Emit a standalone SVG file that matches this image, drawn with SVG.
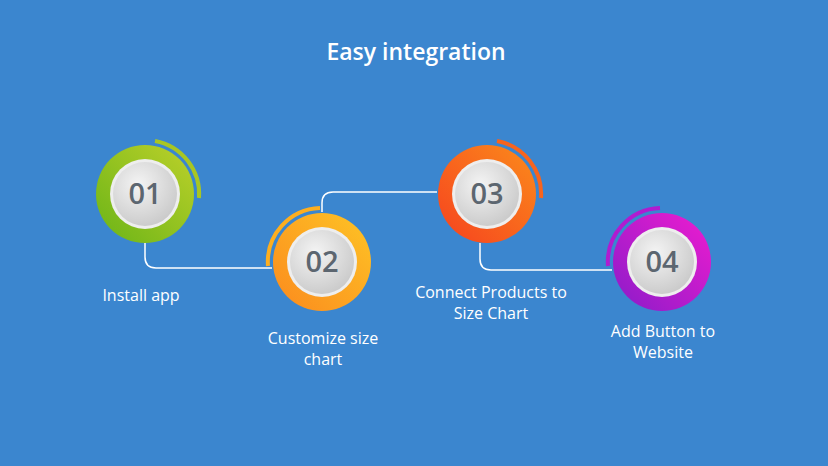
<svg xmlns="http://www.w3.org/2000/svg" width="828" height="466" viewBox="0 0 828 466">
<defs>
<style>
.lbl{font-family:"Open Sans","Liberation Sans",sans-serif;font-size:16px;fill:#fff;text-anchor:middle;font-weight:500}
.num{font-family:"Open Sans","Liberation Sans",sans-serif;font-size:29px;font-weight:600;fill:#5c6670;text-anchor:middle}
.con{fill:none;stroke:#fff;stroke-width:1.5}
.arc{fill:none;stroke-width:4}
</style>
<radialGradient id="w" cx="0.4" cy="0.35" r="0.7"><stop offset="0" stop-color="#f4f4f4"/><stop offset="1" stop-color="#c9c9c9"/></radialGradient>
<linearGradient id="g1" x1="0" y1="1" x2="1" y2="0"><stop offset="0" stop-color="#6ab417"/><stop offset="1" stop-color="#bdd12a"/></linearGradient>
<linearGradient id="g2" x1="0" y1="1" x2="1" y2="0"><stop offset="0" stop-color="#fb8a1e"/><stop offset="1" stop-color="#fec425"/></linearGradient>
<linearGradient id="g3" x1="0" y1="1" x2="1" y2="0"><stop offset="0" stop-color="#f6421f"/><stop offset="1" stop-color="#fb8b1b"/></linearGradient>
<linearGradient id="g4" x1="0" y1="1" x2="1" y2="0"><stop offset="0" stop-color="#8a1cc9"/><stop offset="1" stop-color="#ef1ccf"/></linearGradient>
</defs>
<rect width="828" height="466" fill="#3b86cf"/>
<text x="416" y="60" font-family="'Open Sans','Liberation Sans',sans-serif" font-size="23" font-weight="600" fill="#fff" text-anchor="middle">Easy integration</text>
<g id="connectors">
<path class="con" d="M145 243 V257 Q145 268 156 268 H272"/>
<path class="con" d="M322 212 V203 Q322 192 333 192 H437"/>
<path class="con" d="M480 243 V259 Q480 270 491 270 H612"/>
</g>
<g id="n1">
<path class="arc" stroke="#a8c623" d="M155 141 A54 54 0 0 1 199 198"/>
<circle cx="145" cy="194" r="49" fill="url(#g1)"/>
<circle cx="145" cy="194" r="35" fill="#eee"/>
<circle cx="145" cy="194" r="32" fill="url(#w)"/>
<text class="num" x="145" y="204">01</text>
<text class="lbl" x="141" y="301">Install app</text>
</g>
<g id="n2">
<path class="arc" stroke="#fdae1f" d="M268 266 A54 54 0 0 1 320 208"/>
<circle cx="322" cy="262" r="49" fill="url(#g2)"/>
<circle cx="322" cy="262" r="35" fill="#eee"/>
<circle cx="322" cy="262" r="32" fill="url(#w)"/>
<text class="num" x="322" y="272">02</text>
<text class="lbl" x="323" y="344">Customize size</text>
<text class="lbl" x="323" y="365">chart</text>
</g>
<g id="n3">
<path class="arc" stroke="#f7641e" d="M497 141 A54 54 0 0 1 541 198"/>
<circle cx="487" cy="194" r="49" fill="url(#g3)"/>
<circle cx="487" cy="194" r="35" fill="#eee"/>
<circle cx="487" cy="194" r="32" fill="url(#w)"/>
<text class="num" x="487" y="204">03</text>
<text class="lbl" x="491" y="298">Connect Products to</text>
<text class="lbl" x="491" y="319">Size Chart</text>
</g>
<g id="n4">
<path class="arc" stroke="#b01cd0" d="M608 266 A54 54 0 0 1 660 208"/>
<circle cx="662" cy="262" r="49" fill="url(#g4)"/>
<circle cx="662" cy="262" r="35" fill="#eee"/>
<circle cx="662" cy="262" r="32" fill="url(#w)"/>
<text class="num" x="662" y="272">04</text>
<text class="lbl" x="663" y="337">Add Button to</text>
<text class="lbl" x="663" y="358">Website</text>
</g>
</svg>
